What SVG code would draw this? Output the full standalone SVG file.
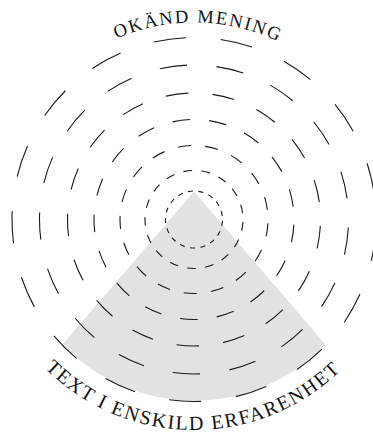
<svg xmlns="http://www.w3.org/2000/svg" xmlns:xlink="http://www.w3.org/1999/xlink" width="373" height="435" viewBox="0 0 373 435">
  <style>
    .ring { fill: none; stroke: #1a1a1a; stroke-width: 1.1; }
    .lbl { font-family: "Liberation Serif", "DejaVu Serif", serif; fill: #141414; }
  </style>
  <defs>
    <path id="topArc" d="M -3 219.5 A 197 197 0 0 1 391 219.5"/>
    <path id="botArc" d="M -16.5 219.5 A 210.5 210.5 0 0 0 404.5 219.5"/>
  </defs>
  <rect width="373" height="435" fill="#ffffff"/>
  <g id="wedge">
    <path d="M 194 191.5 L 62.5 344.5 A 182 182 0 0 0 325.5 344.5 Z" fill="#e2e2e2"/>
  </g>
  <g id="rings">
    <circle id="ring1" class="ring" cx="194" cy="219.5" r="28.5" stroke-dasharray="5.06 5.48" stroke-dashoffset="9.04" stroke-width="0.9"/>
    <circle id="ring2" class="ring" cx="194" cy="219.5" r="49" stroke-dasharray="8.69 9.42" stroke-dashoffset="15.54" stroke-width="0.95"/>
    <circle id="ring3" class="ring" cx="194" cy="219.5" r="74" stroke-dasharray="13.13 14.22" stroke-dashoffset="23.48"/>
    <circle id="ring4" class="ring" cx="194" cy="219.5" r="100" stroke-dasharray="17.74 19.22" stroke-dashoffset="31.72"/>
    <circle id="ring5" class="ring" cx="194" cy="219.5" r="126.5" stroke-dasharray="22.44 24.31" stroke-dashoffset="40.13"/>
    <circle id="ring6" class="ring" cx="194" cy="219.5" r="154.5" stroke-dasharray="27.41 29.69" stroke-dashoffset="49.01"/>
    <circle id="ring7" class="ring" cx="194" cy="219.5" r="182" stroke-dasharray="32.29 34.98" stroke-dashoffset="57.74"/>
  </g>
  <g id="label-top">
    <text class="lbl" font-size="18.5" letter-spacing="1.9" text-anchor="middle"><textPath xlink:href="#topArc" href="#topArc" startOffset="313.5">OKÄND MENING</textPath></text>
  </g>
  <g id="label-bottom">
    <text class="lbl" font-size="20" letter-spacing="1.7" text-anchor="middle"><textPath xlink:href="#botArc" href="#botArc" startOffset="329.5">TEXT I ENSKILD ERFARENHET</textPath></text>
  </g>
</svg>
